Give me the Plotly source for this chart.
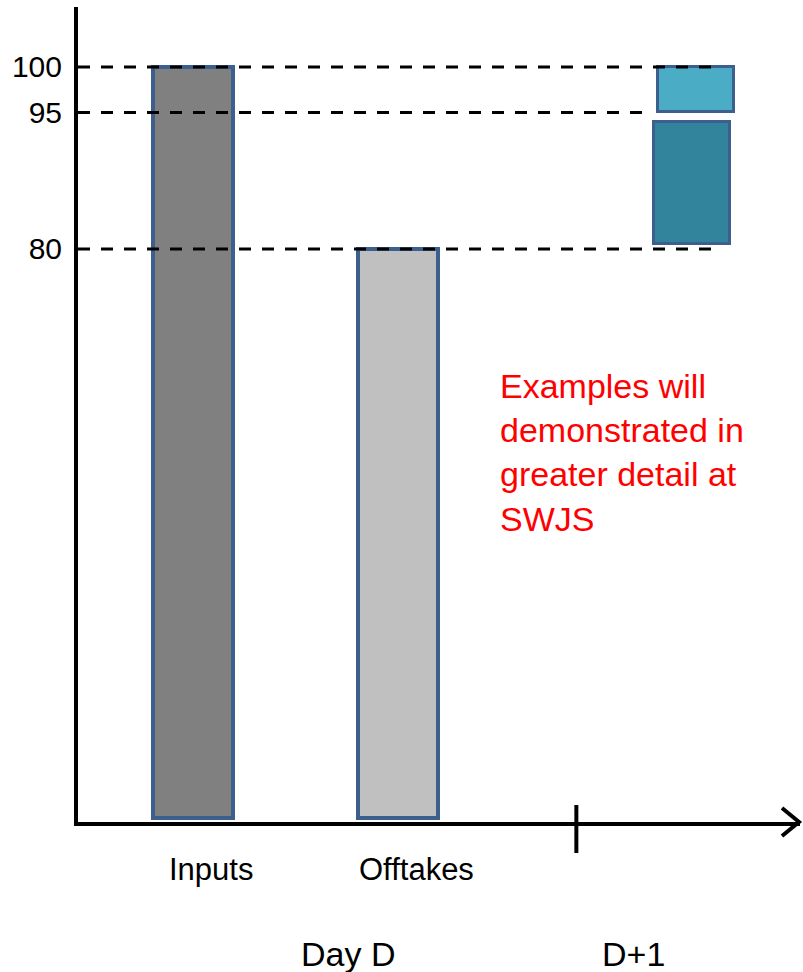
import plotly.graph_objects as go

# ---- data ----
categories = ["Inputs", "Offtakes"]
cat_pos = [0, 1]
cat_values = [100, 80]
cat_colors = ["#808080", "#C0C0C0"]

d1_pos = [2.454, 2.434]
d1_low = [95, 80.5]
d1_high = [100, 94.0]
d1_colors = ["#4BACC6", "#31849B"]

ref_levels = [100, 95, 80]
ref_line_end = [2.58, 2.23, 2.58]
tick_vals = [80, 95, 100]
tick_text = ["80", "95", "100"]

day_labels = ["Day D", "D+1"]
day_label_pos = [0.756, 2.15]
day_boundary = 1.87

note_text = "Examples will<br>demonstrated in<br>greater detail at<br>SWJS"

y_min, y_max = 17.03, 106.59
x_min, x_max = -0.561, 2.961
bar_base = 17.47
bar_width = 0.39
border_col = "#3C5F8E"
FONT = "Arial, Liberation Sans, sans-serif"

fig = go.Figure()

fig.add_trace(go.Bar(
    x=cat_pos, y=[v - bar_base for v in cat_values], base=bar_base,
    width=bar_width, marker=dict(color=cat_colors, line=dict(color=border_col, width=4)),
    hoverinfo="skip", showlegend=False))

fig.add_trace(go.Bar(
    x=d1_pos, y=[h - l for h, l in zip(d1_high, d1_low)], base=d1_low,
    width=0.37, marker=dict(color=d1_colors, line=dict(color=border_col, width=3)),
    hoverinfo="skip", showlegend=False))

shapes = []
for lvl, xe in zip(ref_levels, ref_line_end):
    shapes.append(dict(type="line", xref="x", yref="y", x0=x_min, x1=xe, y0=lvl, y1=lvl,
                       line=dict(color="black", width=3, dash="12px,11px"), layer="above"))

# day boundary tick
shapes.append(dict(type="line", xref="x", yref="paper", x0=day_boundary, x1=day_boundary,
                   ysizemode="pixel", yanchor=0, y0=-31, y1=17,
                   line=dict(color="black", width=4)))
# arrow head
shapes.append(dict(type="path", xref="paper", yref="paper",
                   xsizemode="pixel", xanchor=1, ysizemode="pixel", yanchor=0,
                   path="M -18,14 L -1,0 L -18,-14",
                   line=dict(color="black", width=4)))

annotations = []
for name, p in zip(categories, cat_pos):
    annotations.append(dict(x=p, y=0, xref="x", yref="paper", text=name, showarrow=False,
                            xshift=18, yshift=-47, yanchor="middle", xanchor="center",
                            font=dict(family=FONT, size=31, color="black")))
for name, p in zip(day_labels, day_label_pos):
    annotations.append(dict(x=p, y=0, xref="x", yref="paper", text=name, showarrow=False,
                            yshift=-132, yanchor="middle", xanchor="center",
                            font=dict(family=FONT, size=34, color="black")))
annotations.append(dict(x=1.488, y=67.2, xref="x", yref="y", text=note_text, showarrow=False,
                        xanchor="left", yanchor="top", align="left",
                        font=dict(family=FONT, size=34, color="#FF0000")))

fig.update_layout(
    width=803, height=972,
    margin=dict(l=78, r=3, t=7, b=150),
    paper_bgcolor="white", plot_bgcolor="white",
    shapes=shapes, annotations=annotations,
    xaxis=dict(range=[x_min, x_max], showgrid=False, zeroline=False, showticklabels=False,
               showline=True, linecolor="black", linewidth=4, ticks=""),
    yaxis=dict(range=[y_min, y_max], showgrid=False, zeroline=False,
               tickvals=tick_vals, ticktext=tick_text, ticks="",
               tickfont=dict(family=FONT, size=30, color="black"),
               showline=True, linecolor="black", linewidth=4, ticklabelstandoff=6),
    bargap=0, barmode="overlay",
)

fig.write_html("out.html")
